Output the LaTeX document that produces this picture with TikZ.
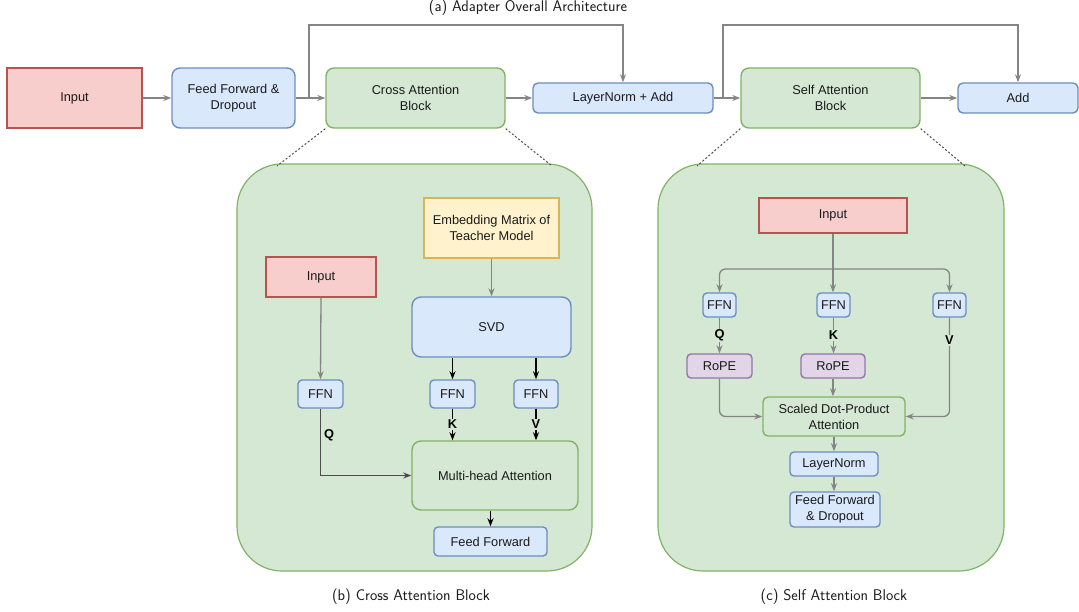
\documentclass[tikz,border=0pt]{standalone}
\usepackage{fontspec}
\newfontfamily\boxfont{Liberation Sans}
\usetikzlibrary{arrows.meta}

\definecolor{redfill}{HTML}{F8CECC}
\definecolor{reddraw}{HTML}{B85450}
\definecolor{bluefill}{HTML}{DAE8FC}
\definecolor{bluedraw}{HTML}{6C8EBF}
\definecolor{greenfill}{HTML}{D5E8D4}
\definecolor{greendraw}{HTML}{82B366}
\definecolor{yellowfill}{HTML}{FFF2CC}
\definecolor{yellowdraw}{HTML}{D6B656}
\definecolor{purplefill}{HTML}{E1D5E7}
\definecolor{purpledraw}{HTML}{9673A6}
\definecolor{linegray}{HTML}{858585}
\definecolor{linedark}{HTML}{4D4D4D}
\definecolor{textdark}{HTML}{1A1A1A}

\tikzset{
  base/.style={draw, line width=1.4pt, align=center, inner sep=0pt,
    text=textdark, font=\fontsize{12.8}{16}\selectfont\boxfont},
  redbox/.style={base, fill=redfill, draw=reddraw},
  bluebox/.style={base, fill=bluefill, draw=bluedraw, rounded corners=#1},
  bluebox/.default=4pt,
  greenbox/.style={base, fill=greenfill, draw=greendraw, rounded corners=#1},
  greenbox/.default=8pt,
  yellowbox/.style={base, fill=yellowfill, draw=yellowdraw},
  purplebox/.style={base, fill=purplefill, draw=purpledraw, rounded corners=4pt},
  panel/.style={fill=greenfill, draw=greendraw, line width=1.2pt, rounded corners=45pt},
  tip/.style={-{Stealth[length=8pt,width=6pt,inset=2.5pt]}},
  arr/.style={tip, draw=linegray, line width=1.3pt},
  arrblack/.style={tip, draw=black, line width=1.3pt},
  arrdark/.style={tip, draw=linedark, line width=1.3pt},
  zoomline/.style={draw=linedark, line width=1pt, dash pattern=on 2pt off 2pt},
  lab/.style={font=\fontsize{12.8}{14}\selectfont\boxfont\bfseries, text=black,
    fill=greenfill, inner sep=1pt},
  caption/.style={font=\fontsize{15.5}{18}\selectfont\sffamily, text=textdark}
}

\begin{document}
\begin{tikzpicture}[x=1pt, y=-1pt]
\useasboundingbox (0,0) rectangle (1079,612);

% ---------- (a) overall architecture ----------
\node[caption] (capa) at (528,8) {(a) Adapter Overall Architecture};

\node[redbox, minimum width=135pt, minimum height=60pt] (inA) at (74.5,98) {Input};
\node[bluebox=8pt, minimum width=123pt, minimum height=60pt] (ffd) at (233.5,98) {Feed Forward \&\\Dropout};
\node[greenbox, minimum width=179pt, minimum height=60pt] (cab) at (415.5,98) {Cross Attention\\Block};
\node[bluebox=5pt, minimum width=180pt, minimum height=30pt] (lna) at (623,98) {LayerNorm + Add};
\node[greenbox, minimum width=179pt, minimum height=60pt] (sab) at (830.5,98) {Self Attention\\Block};
\node[bluebox=5pt, minimum width=120pt, minimum height=30pt] (add) at (1018,98) {Add};

\draw[arr] (inA) -- (ffd);
\draw[arr] (ffd) -- (cab);
\draw[arr] (cab) -- (lna);
\draw[arr] (lna) -- (sab);
\draw[arr] (sab) -- (add);

% residual connections
\coordinate (s1) at (309,98);
\coordinate (t1) at (309,25);
\draw[arr] (s1) -- (t1) -| (lna.north);
\coordinate (s2) at (723,98);
\coordinate (t2) at (723,25);
\draw[arr] (s2) -- (t2) -| (add.north);

% ---------- panels ----------
\draw[panel] (237,164) rectangle (592,571);
\draw[panel] (658,164) rectangle (1004,571);

\coordinate (pbl) at (277,166);
\coordinate (pbr) at (552,166);
\coordinate (pcl) at (697,166);
\coordinate (pcr) at (965,166);
\draw[zoomline] (cab.south west) -- (pbl);
\draw[zoomline] (cab.south east) -- (pbr);
\draw[zoomline] (sab.south west) -- (pcl);
\draw[zoomline] (sab.south east) -- (pcr);

\node[caption] (capb) at (411,597) {(b) Cross Attention Block};
\node[caption] (capc) at (834,597) {(c) Self Attention Block};

% ---------- (b) cross attention block ----------
\node[yellowbox, minimum width=135pt, minimum height=60pt] (emb) at (491.5,228) {Embedding Matrix of\\Teacher Model};
\node[redbox, minimum width=110pt, minimum height=40pt] (inB) at (321,277) {Input};
\node[bluebox=9pt, minimum width=159pt, minimum height=60pt] (svd) at (491.5,327) {SVD};
\node[bluebox, minimum width=45pt, minimum height=28pt] (fq) at (320.5,394) {FFN};
\node[bluebox, minimum width=45pt, minimum height=28pt] (fk) at (452.5,394) {FFN};
\node[bluebox, minimum width=44pt, minimum height=28pt] (fv) at (536,394) {FFN};
\node[greenbox=9pt, minimum width=166pt, minimum height=69pt] (mha) at (495,475.5) {Multi-head Attention};
\node[bluebox, minimum width=113pt, minimum height=29pt] (ffb) at (490.5,541.5) {Feed Forward};

\draw[arr] (emb.south) -- (svd.north -| emb.south);
\draw[arr] (inB.south) -- (fq.north);
\draw[arrblack] (svd.south -| fk.north) -- (fk.north);
\draw[arrblack] (svd.south -| fv.north) -- (fv.north);
\draw[arrblack] (fk.south) -- node[lab] {K} (fk.south |- mha.north);
\draw[arrblack] (fv.south) -- node[lab] {V} (fv.south |- mha.north);
\draw[arrdark] (fq.south) |- node[pos=0.2, right=2pt, lab, fill=none] {Q} (mha.west);
\draw[arrblack] (mha.south -| ffb.north) -- (ffb.north);

% ---------- (c) self attention block ----------
\node[redbox, minimum width=148pt, minimum height=35pt] (inC) at (833,215.5) {Input};
\node[bluebox, minimum width=33pt, minimum height=24pt] (cq) at (719.5,305) {FFN};
\node[bluebox, minimum width=33pt, minimum height=24pt] (ck) at (833.5,305) {FFN};
\node[bluebox, minimum width=33pt, minimum height=24pt] (cv) at (949.5,305) {FFN};
\node[purplebox, minimum width=65pt, minimum height=24pt] (rq) at (719.5,366) {RoPE};
\node[purplebox, minimum width=64pt, minimum height=24pt] (rk) at (833,366) {RoPE};
\node[greenbox=5pt, minimum width=142pt, minimum height=39pt] (sdpa) at (834,416.5) {Scaled Dot-Product\\Attention};
\node[bluebox, minimum width=88pt, minimum height=24pt] (lnc) at (834,464) {LayerNorm};
\node[bluebox, minimum width=90pt, minimum height=35pt] (ffc) at (835,509.5) {Feed Forward\\\& Dropout};

\coordinate (br) at (833,269);
\draw[arr] (inC.south) -- (ck.north -| inC.south);
\draw[arr, rounded corners=6pt] (br) -| (cq.north);
\draw[arr, rounded corners=6pt] (br) -| (cv.north);
\draw[arr] (cq.south) -- node[lab] {Q} (rq.north);
\draw[arr] (ck.south) -- node[lab] {K} (ck.south |- rk.north);
\draw[arr, rounded corners=6pt] (rq.south) |- (sdpa.west);
\draw[arr] (rk.south) -- (rk.south |- sdpa.north);
\draw[arr, rounded corners=6pt] (cv.south) |- node[pos=0.115, lab] {V} (sdpa.east);
\draw[arr] (sdpa.south) -- (lnc.north);
\draw[arr] (lnc.south) -- (lnc.south |- ffc.north);
\end{tikzpicture}
\end{document}
